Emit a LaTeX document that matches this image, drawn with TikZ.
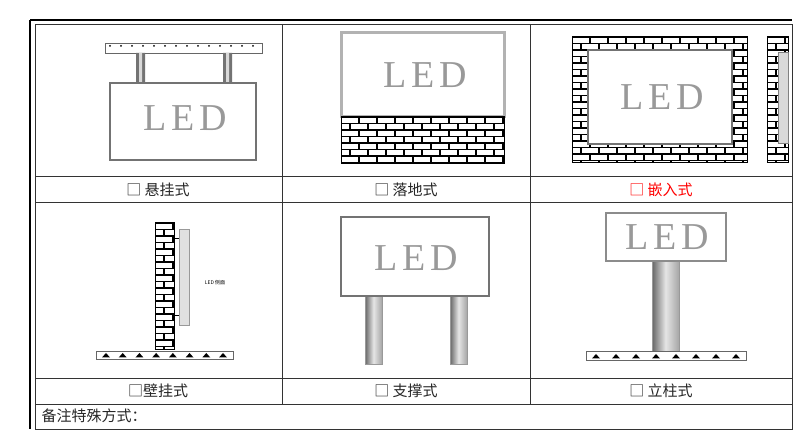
\documentclass[tikz,border=0pt]{standalone}
\usepackage{fontspec}
\setmainfont{Liberation Serif}
\newfontfamily\cjk{Noto Sans CJK SC}
\newfontfamily\ledf[LetterSpace=12]{Liberation Serif}
\begin{document}
\begin{tikzpicture}[x=1pt,y=-1pt,
  grid/.style={draw=black!80,line width=0.8pt},
  led/.style={font=\ledf\fontsize{38}{38}\selectfont,text=black!40},
  lab/.style={font=\cjk\fontsize{15}{15}\selectfont,text=black!85},
  frame/.style={draw=black!55,line width=2pt,fill=white},
  pole/.style={left color=black!60,right color=black!35,middle color=black!10,draw=black!40}]
\newcommand\brk[4]{%
  \begin{scope}
  \clip (#1,#2) rectangle (#3,#4);
  \fill[white] (#1,#2) rectangle (#3,#4);
  \foreach \i in {0,...,25}{%
    \pgfmathsetmacro\yy{#2+6.5*\i}%
    \draw[line width=1.4pt] (#1,\yy) -- (#3,\yy);
    \foreach \j in {0,...,12}{%
      \pgfmathsetmacro\xx{#1+18*\j+9*mod(\i,2)}%
      \draw[line width=1.4pt] (\xx,\yy) -- (\xx,\yy+6.5);}}
  \end{scope}
  \draw[line width=1pt] (#1,#2) rectangle (#3,#4);}
\newcommand\gnd[4]{%
  \draw[black!60,fill=white] (#1,#2) rectangle (#3,#4);
  \foreach \k in {0,...,7}{%
    \pgfmathsetmacro\xx{#1+10+(#3-#1-20)*\k/7}%
    \fill (\xx-4,#4-1.5) -- (\xx,#4-6) -- (\xx+4,#4-1.5) -- cycle;}}
\useasboundingbox (0,0) rectangle (812,443);
% table
\draw[line width=1.2pt] (30,20) -- (792,20);
\draw[line width=1.5pt] (30,20) -- (30,429);
\draw[grid] (35,24) rectangle (792,429);
\draw[grid] (282,24) -- (282,404) (530,24) -- (530,404);
\draw[grid] (35,176) -- (792,176) (35,202) -- (792,202) (35,378) -- (792,378) (35,404) -- (792,404);
% cell 1 hanging
\draw[black!60,fill=white] (105,43) rectangle (262,53);
\foreach \k in {0,...,13}{\fill (110+11*\k,46) circle (1pt);}
\fill[black!55] (136,53) rectangle (145,83) (223,53) rectangle (232,83);
\fill[black!15] (139,53) rectangle (142,83) (226,53) rectangle (229,83);
\draw[frame] (110,83) rectangle (256,160);
\node[led] (l1) at (185,118) {LED};
% cell 2 floor
\draw[frame,draw=black!30,line width=3pt] (341,33) rectangle (504,117);
\node[led] (l2) at (425,75) {LED};
\brk{341}{117}{504}{164}
% cell 3 embedded
\brk{572}{37}{747}{163}
\draw[frame] (588,50) rectangle (732,144);
\node[led] (l3) at (662,97) {LED};
\brk{767}{37}{788}{163}
\draw[black!50,fill=black!15] (778,52) rectangle (788,143);
% labels row 1
\node[lab] (t1) at (158,190) {□ 悬挂式};
\node[lab] (t2) at (406,190) {□ 落地式};
\node[lab,text=red] (t3) at (661,190) {□ 嵌入式};
% cell 4 wall
\brk{155}{223}{174}{350}
\draw[black!40,fill=black!12] (179,229) rectangle (189,325);
\draw[line width=1pt] (174,239) -- (179,239) (174,316) -- (179,316);
\node[font=\cjk\fontsize{5}{5}\selectfont] (t4s) at (215,283) {LED 侧面};
\gnd{96}{351}{233}{359}
% cell 5 support
\fill[pole] (365,296) rectangle (382,364);
\fill[pole] (450,296) rectangle (467,364);
\draw[frame] (341,217) rectangle (489,296);
\node[led] (l5) at (416,258) {LED};
% cell 6 pillar
\fill[pole] (652,261) rectangle (679,352);
\draw[frame,draw=black!45] (606,213) rectangle (726,261);
\node[led] (l6) at (667,237) {LED};
\gnd{586}{351}{746}{360}
% labels row 2
\node[lab] (t5) at (158,391) {□壁挂式};
\node[lab] (t6) at (406,391) {□ 支撑式};
\node[lab] (t7) at (661,391) {□ 立柱式};
\node[lab,anchor=west] (t8) at (38,416) {备注特殊方式：};
\end{tikzpicture}
\end{document}
